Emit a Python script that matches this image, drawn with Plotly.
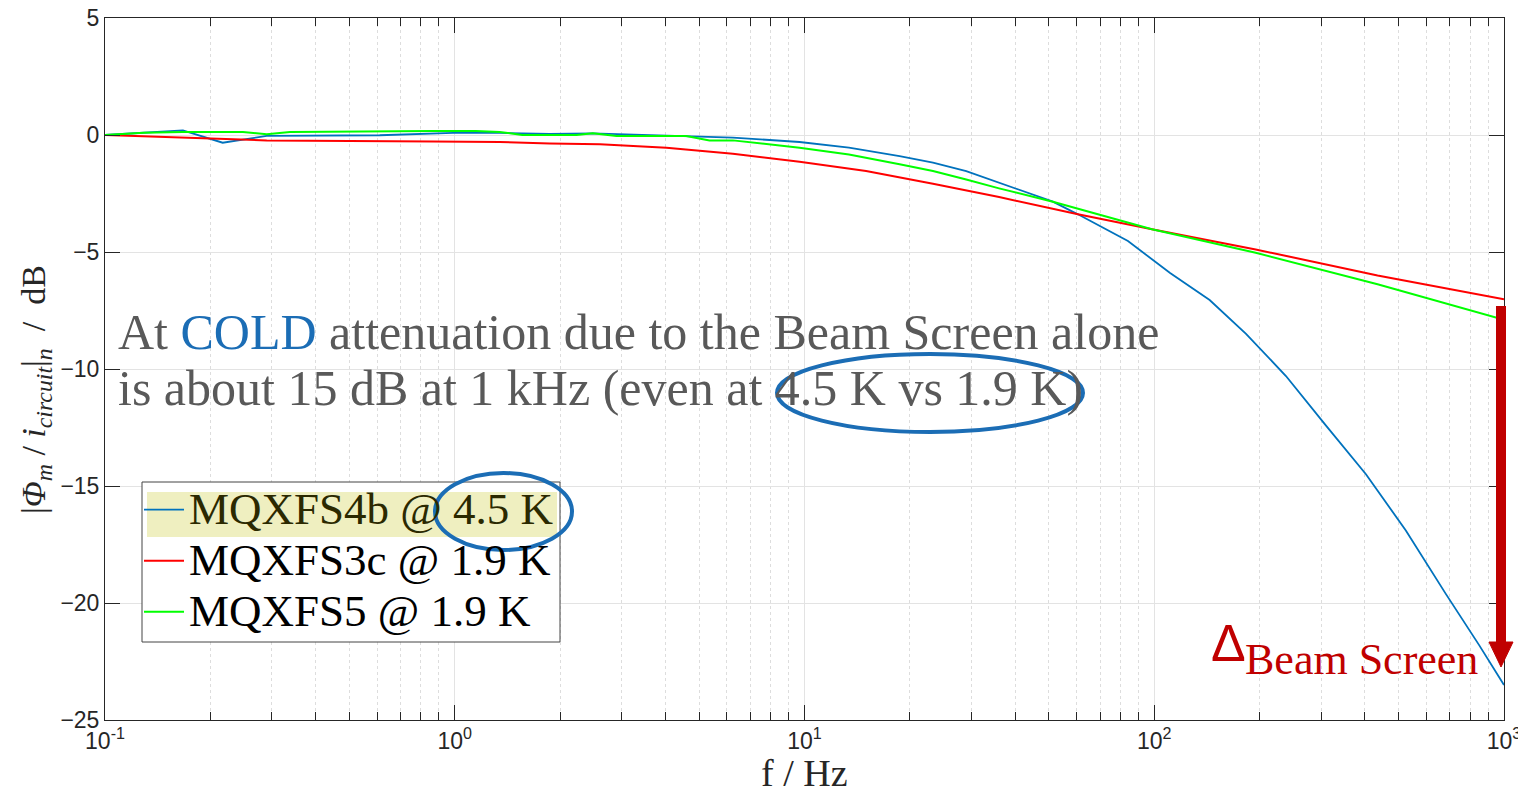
import plotly.graph_objects as go

# ---------------- data ----------------
f_blue = [0.1, 0.167, 0.217, 0.29, 0.61, 0.99, 1.345, 1.87, 2.48, 4.59, 6.24, 9.68, 13.4,
          18.7, 23.3, 29, 36.1, 51.3, 60.5, 84.1, 111, 144, 183, 238, 309, 403, 524, 681, 849, 1000]
db_blue = [0, 0.2, -0.33, -0.04, -0.01, 0.09, 0.09, 0.05, 0.07, -0.04, -0.11, -0.3, -0.54,
           -0.9, -1.18, -1.54, -2.04, -2.85, -3.39, -4.53, -5.9, -7.05, -8.5, -10.3, -12.4,
           -14.5, -16.9, -19.6, -21.8, -23.5]

f_red = [0.1, 0.167, 0.2, 0.29, 0.867, 1.345, 1.87, 2.6, 4.03, 6.24, 9.68, 15, 23.3, 36,
         60.5, 98.5, 195, 435, 1000]
db_red = [0, -0.11, -0.16, -0.23, -0.28, -0.3, -0.36, -0.4, -0.54, -0.8, -1.14, -1.54,
          -2.08, -2.65, -3.39, -4.03, -4.89, -6.0, -7.02]

f_green = [0.1, 0.129, 0.167, 0.248, 0.29, 0.338, 0.867, 1.15, 1.345, 1.56, 2.23, 2.48, 2.9,
           4.59, 5.35, 6.24, 9.68, 13.4, 18.7, 23.3, 29, 36, 51.3, 98.5, 195, 435, 1000]
db_green = [0, 0.1, 0.13, 0.13, 0.03, 0.13, 0.17, 0.17, 0.13, 0.0, 0.0, 0.07, -0.04,
            -0.04, -0.23, -0.23, -0.54, -0.83, -1.25, -1.54, -1.9, -2.28, -2.85, -4.03,
            -5.03, -6.38, -7.9]

names = ["MQXFS4b @ 4.5 K", "MQXFS3c @ 1.9 K", "MQXFS5 @ 1.9 K"]
colors = ["#0072BD", "#FF0000", "#00FF00"]

x_tickvals = [0.1, 1, 10, 100, 1000]
x_ticktext = ["10<sup>-1</sup>", "10<sup>0</sup>", "10<sup>1</sup>", "10<sup>2</sup>", "10<sup>3</sup>"]
y_tickvals = [5, 0, -5, -10, -15, -20, -25]
x_minor_vals = [m * d for d in [0.1, 1, 10, 100] for m in range(2, 10)]

x_title = "f / Hz"
y_title = "|<i>Φ<sub>m</sub></i> / <i>i<sub>circuit</sub></i>|<sub><i>n</i></sub>  /  dB"

# ---------------- figure ----------------
fig = go.Figure()
series = [(f_blue, db_blue), (f_red, db_red), (f_green, db_green)]
legend_names = [
    "<span style='font-size:45px;color:#2b2900'>" + names[0] + "</span>",
    "<span style='font-size:45px'>" + names[1] + "</span>",
    "<span style='font-size:45px'>" + names[2] + "</span>",
]
for (fx, fy), nm, c, w in zip(series, legend_names, colors, [1.8, 2.0, 2.0]):
    fig.add_trace(go.Scatter(x=fx, y=fy, mode="lines", name=nm,
                             line=dict(color=c, width=w)))

# page has an 8 px body margin: figure is offset by 8 px
OFF = 8
W, H = 1526 - OFF, 806 - 2 * OFF
X0, X1, YT, YB = 105, 1504, 18, 720   # plot area in page pixels
def px(x):
    return (x - X0) / (X1 - X0)
def py(y):
    return (YB - y) / (YB - YT)

shapes = [
    # legend box
    dict(type="rect", xref="paper", yref="paper", x0=px(142), x1=px(560), y0=py(642), y1=py(482),
         fillcolor="white", line=dict(color="#444444", width=1), layer="above"),
    # highlight
    dict(type="rect", xref="paper", yref="paper", x0=px(147), x1=px(557), y0=py(537), y1=py(492),
         fillcolor="#EFEFC0", line=dict(width=0), layer="above"),
    # ellipse in legend
    dict(type="circle", xref="paper", yref="paper", x0=px(435), x1=px(572), y0=py(550), y1=py(473),
         line=dict(color="#1B6DB5", width=4), layer="above"),
    # ellipse in annotation
    dict(type="circle", xref="paper", yref="paper", x0=px(777), x1=px(1083), y0=py(432), y1=py(354),
         line=dict(color="#1B6DB5", width=4), layer="above"),
    # arrow shaft
    dict(type="line", xref="paper", yref="paper", x0=px(1501), x1=px(1501), y0=py(306), y1=py(645),
         line=dict(color="#C00000", width=10), layer="above"),
    # arrow head
    dict(type="path", xref="paper", yref="paper",
         path=f"M {px(1489)},{py(642)} L {px(1513)},{py(642)} L {px(1501)},{py(667)} Z",
         fillcolor="#C00000", line=dict(color="#C00000", width=1), layer="above"),
]

annotations = [
    dict(xref="paper", yref="paper", x=px(116), y=py(332), xanchor="left", yanchor="middle",
         text="At <span style='color:#1B6DB5'>COLD</span> attenuation due to the Beam Screen alone",
         showarrow=False, font=dict(family="Liberation Serif", size=50, color="#595959")),
    dict(xref="paper", yref="paper", x=px(116), y=py(388), xanchor="left", yanchor="middle",
         text="is about 15 dB at 1 kHz (even at 4.5 K vs 1.9 K)",
         showarrow=False, font=dict(family="Liberation Serif", size=50, color="#595959")),
    dict(xref="paper", yref="paper", x=px(1209), y=py(643), xanchor="left", yanchor="middle",
         text="Δ", showarrow=False, font=dict(family="Liberation Sans", size=52, color="#C00000")),
    dict(xref="paper", yref="paper", x=px(1243), y=py(659), xanchor="left", yanchor="middle",
         text="Beam Screen", showarrow=False,
         font=dict(family="Liberation Serif", size=44, color="#C00000")),
    # axis titles
    dict(xref="paper", yref="paper", x=px(804), y=py(773), xanchor="center", yanchor="middle",
         text=x_title, showarrow=False,
         font=dict(family="Liberation Serif", size=38, color="#262626")),
    dict(xref="paper", yref="paper", x=px(36), y=py(390), xanchor="center", yanchor="middle",
         text=y_title, showarrow=False, textangle=-90,
         font=dict(family="Liberation Serif", size=34, color="#262626")),
]

axis_common = dict(showline=True, linecolor="#262626", linewidth=1, mirror="allticks",
                   ticks="inside", tickcolor="#262626", ticklen=15, automargin=False,
                   ticklabeloverflow="allow",
                   tickfont=dict(family="Liberation Sans", size=23, color="#262626"),
                   showgrid=True, gridcolor="#E3E3E3", gridwidth=1, zeroline=False)

fig.update_layout(
    width=W, height=H,
    margin=dict(l=X0 - OFF, r=W - (X1 - OFF), t=YT - OFF, b=H - (YB - OFF), autoexpand=False),
    paper_bgcolor="white", plot_bgcolor="white",
    showlegend=True,
    legend=dict(x=px(139), y=py(479), xanchor="left", yanchor="top",
                bgcolor="rgba(0,0,0,0)", borderwidth=0,
                font=dict(family="Liberation Serif", size=37, color="black"),
                itemwidth=40, tracegroupgap=0),
    shapes=shapes, annotations=annotations,
    xaxis=dict(type="log", range=[-1, 3], tickvals=x_tickvals, ticktext=x_ticktext,
               minor=dict(tickmode="array", tickvals=x_minor_vals, ticks="inside", ticklen=8,
                          tickcolor="#262626", showgrid=True,
                          gridcolor="#DDDDDD", griddash="dot"),
               **axis_common),
    yaxis=dict(range=[-25, 5], tickvals=y_tickvals, **axis_common),
)

fig.write_html("out.html")
